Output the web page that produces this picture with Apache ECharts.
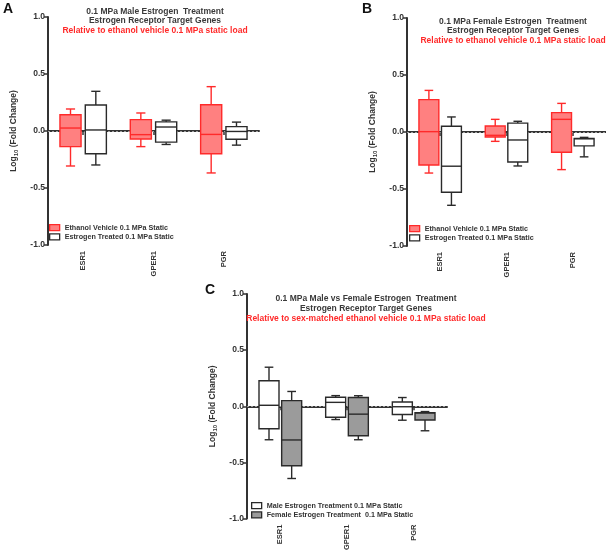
<!DOCTYPE html>
<html>
<head>
<meta charset="utf-8">
<script src="https://cdn.jsdelivr.net/npm/echarts@6/dist/echarts.min.js"></script>
<style>
  html, body { margin: 0; padding: 0; background: #fff; }
  #main { width: 606px; height: 553px; }
</style>
</head>
<body>
<div id="main"></div>
<script>
// genes on the x axis
var genes = ['ESR1', 'GPER1', 'PGR'];
// each row: [min, q1, median, q3, max] in log10 fold change
var maleVehicle   = [[-0.307, -0.137,  0.026, 0.143, 0.193],
                     [-0.137, -0.070, -0.032, 0.100, 0.158],
                     [-0.368, -0.200, -0.030, 0.230, 0.389]];
var maleEstrogen  = [[-0.298, -0.200,  0.009, 0.228, 0.348],
                     [-0.118, -0.098,  0.035, 0.080, 0.095],
                     [-0.124, -0.073, -0.004, 0.038, 0.078]];
var femaleVehicle = [[-0.360, -0.290,  0.003, 0.284, 0.365],
                     [-0.082, -0.044, -0.029, 0.053, 0.111],
                     [-0.330, -0.178,  0.111, 0.170, 0.251]];
var femaleEstrogen= [[-0.643, -0.529, -0.300, 0.050, 0.132],
                     [-0.298, -0.263, -0.070, 0.078, 0.094],
                     [-0.218, -0.122, -0.060, -0.056, -0.047]];
var yTicks = [-1, -0.5, 0, 0.5, 1];
var baseline = 0;

var RED = '#ff2a2a', RED_FILL = '#ff8080', DARK = '#2a2a2a', GREY_FILL = '#9b9b9b';
var FONT = 'Liberation Sans, Arial, sans-serif';

function toData(rows) {
    return rows.map(function (r, i) { return [i].concat(r); });
}

// box + whiskers drawn through the axis scales
function boxRenderer(offsetFrac, fill, stroke) {
    return function (params, api) {
        var cat = api.value(0);
        var band = api.size([1, 0])[0];
        var cx = api.coord([cat, 0])[0] + band * offsetFrac;
        var w = band * 0.3, cap = band * 0.13;
        var yMin = api.coord([cat, api.value(1)])[1];
        var yQ1 = api.coord([cat, api.value(2)])[1];
        var yMed = api.coord([cat, api.value(3)])[1];
        var yQ3 = api.coord([cat, api.value(4)])[1];
        var yMax = api.coord([cat, api.value(5)])[1];
        var ls = { stroke: stroke, lineWidth: 1.4 };
        return {
            type: 'group',
            children: [
                { type: 'line', shape: { x1: cx, y1: yMax, x2: cx, y2: yQ3 }, style: ls },
                { type: 'line', shape: { x1: cx, y1: yQ1, x2: cx, y2: yMin }, style: ls },
                { type: 'line', shape: { x1: cx - cap / 2, y1: yMax, x2: cx + cap / 2, y2: yMax }, style: ls },
                { type: 'line', shape: { x1: cx - cap / 2, y1: yMin, x2: cx + cap / 2, y2: yMin }, style: ls },
                { type: 'rect', shape: { x: cx - w / 2, y: yQ3, width: w, height: yQ1 - yQ3 },
                  style: { fill: fill, stroke: stroke, lineWidth: 1.4 } },
                { type: 'line', shape: { x1: cx - w / 2, y1: yMed, x2: cx + w / 2, y2: yMed }, style: ls }
            ]
        };
    };
}

function boxSeries(name, idx, rows, offsetFrac, fill, stroke) {
    return {
        name: name,
        type: 'custom',
        xAxisIndex: idx,
        yAxisIndex: idx,
        renderItem: boxRenderer(offsetFrac, fill, stroke),
        itemStyle: { color: fill, borderColor: stroke },
        encode: { x: 0, y: [1, 2, 3, 4, 5] },
        data: toData(rows),
        z: 3
    };
}

// dotted line at y = 0 across the whole plot
function zeroSeries(idx) {
    return {
        type: 'custom',
        xAxisIndex: idx,
        yAxisIndex: idx,
        silent: true,
        z: 1,
        encode: { x: 0, y: 1 },
        data: [[0, baseline]],
        renderItem: function (params, api) {
            var cs = params.coordSys;
            var y = Math.round(api.coord([0, api.value(1)])[1]) + 0.5;
            return {
                type: 'line',
                shape: { x1: cs.x, y1: y, x2: cs.x + cs.width, y2: y },
                style: { stroke: '#9c9c9c', lineWidth: 1, lineDash: [2, 2] }
            };
        }
    };
}

function xAx(idx) {
    return {
        gridIndex: idx,
        type: 'category',
        data: genes,
        axisLine: { lineStyle: { color: '#333', width: 2 } },
        axisTick: { show: true, alignWithLabel: true, length: 4, lineStyle: { color: '#333', width: 1.5 } },
        axisLabel: { rotate: 90, margin: 6, fontSize: 7.5, fontWeight: 'bold', color: '#333', fontFamily: FONT }
    };
}

function yAx(idx) {
    return {
        gridIndex: idx,
        type: 'value',
        min: yTicks[0],
        max: yTicks[yTicks.length - 1],
        interval: 0.5,
        axisLine: { show: true, lineStyle: { color: '#333', width: 2 } },
        axisTick: { show: true, length: 4, lineStyle: { color: '#333', width: 1.5 } },
        splitLine: { show: false },
        axisLabel: {
            margin: 3, fontSize: 8.5, fontWeight: 'bold', color: '#333', fontFamily: FONT,
            formatter: function (v) { return v.toFixed(1); }
        },
        name: 'Log{s|10} (Fold Change)',
        nameLocation: 'middle',
        nameGap: 29,
        nameTextStyle: {
            fontSize: 8.5, fontWeight: 'bold', color: '#333', fontFamily: FONT,
            rich: { s: { fontSize: 6, fontWeight: 'bold', color: '#333', fontFamily: FONT, padding: [4, 0, 0, 0] } }
        }
    };
}

function panelTitle(cx, top, l1, l2, red) {
    return {
        text: l1 + '\n' + l2,
        subtext: red,
        left: cx,
        top: top,
        textAlign: 'center',
        padding: 0,
        itemGap: 0,
        textStyle: { fontSize: 8.5, fontWeight: 'bold', color: '#3a3a3a', lineHeight: 9.7, fontFamily: FONT },
        subtextStyle: { fontSize: 8.5, fontWeight: 'bold', color: RED, lineHeight: 9.7, fontFamily: FONT }
    };
}

function letter(t, x, y) {
    return { text: t, left: x, top: y, padding: 0,
             textStyle: { fontSize: 14, fontWeight: 'bold', color: '#111', fontFamily: FONT } };
}

function legendAt(x, y, items) {
    return {
        orient: 'vertical',
        left: x,
        top: y,
        padding: 0,
        itemGap: 2,
        itemWidth: 10,
        itemHeight: 6,
        selectedMode: false,
        textStyle: { fontSize: 7.2, fontWeight: 'bold', color: '#333', fontFamily: FONT, padding: [0, 0, 0, 0] },
        data: items
    };
}

var nVeh = 'Ethanol Vehicle 0.1 MPa Static';
var nEst = 'Estrogen Treated 0.1 MPa Static';
var nMale = 'Male Estrogen Treatment 0.1 MPa Static';
var nFem = 'Female Estrogen Treatment  0.1 MPa Static';

var legRed = { name: nVeh, icon: 'rect', itemStyle: { color: RED_FILL, borderColor: RED, borderWidth: 1.3 } };
var legWhite = { name: nEst, icon: 'rect', itemStyle: { color: '#fff', borderColor: DARK, borderWidth: 1.3 } };

var option = {
    animation: false,
    backgroundColor: '#fff',
    title: [
        letter('A', 3, 2),
        letter('B', 362, 2),
        letter('C', 205, 283),
        panelTitle(155, 6.5, '0.1 MPa Male Estrogen  Treatment', 'Estrogen Receptor Target Genes',
                   'Relative to ethanol vehicle 0.1 MPa static load'),
        panelTitle(513, 16.5, '0.1 MPa Female Estrogen  Treatment', 'Estrogen Receptor Target Genes',
                   'Relative to ethanol vehicle 0.1 MPa static load'),
        panelTitle(366, 294, '0.1 MPa Male vs Female Estrogen  Treatment', 'Estrogen Receptor Target Genes',
                   'Relative to sex-matched ethanol vehicle 0.1 MPa static load')
    ],
    legend: [
        legendAt(49, 224, [legRed, legWhite]),
        legendAt(409, 225, [legRed, legWhite]),
        legendAt(251, 502, [
            { name: nMale, icon: 'rect', itemStyle: { color: '#fff', borderColor: DARK, borderWidth: 1.3 } },
            { name: nFem, icon: 'rect', itemStyle: { color: GREY_FILL, borderColor: DARK, borderWidth: 1.3 } }
        ])
    ],
    grid: [
        { left: 48, top: 17, width: 211, height: 228 },
        { left: 407, top: 18, width: 200, height: 228 },
        { left: 247, top: 294, width: 200, height: 227 }
    ],
    xAxis: [xAx(0), xAx(1), xAx(2)],
    yAxis: [yAx(0), yAx(1), yAx(2)],
    series: [
        zeroSeries(0), zeroSeries(1), zeroSeries(2),
        boxSeries(nVeh, 0, maleVehicle, -0.18, RED_FILL, RED),
        boxSeries(nEst, 0, maleEstrogen, 0.18, '#fff', DARK),
        boxSeries(nVeh, 1, femaleVehicle, -0.17, RED_FILL, RED),
        boxSeries(nEst, 1, femaleEstrogen, 0.17, '#fff', DARK),
        boxSeries(nMale, 2, maleEstrogen, -0.17, '#fff', DARK),
        boxSeries(nFem, 2, femaleEstrogen, 0.17, GREY_FILL, DARK)
    ]
};

var chart = echarts.init(document.getElementById('main'));
chart.setOption(option);
</script>
</body>
</html>
